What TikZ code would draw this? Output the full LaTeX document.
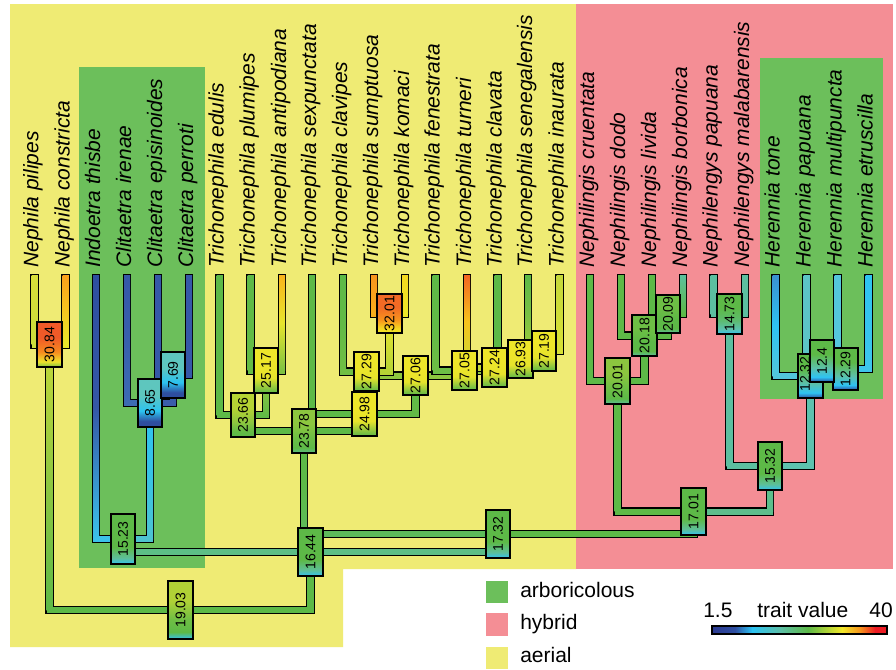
\documentclass[tikz,border=0pt]{standalone}
\usepackage{fontspec}
\setmainfont{Liberation Sans}
\usepackage{graphicx}
\usetikzlibrary{calc}
\pgfdeclarelayer{bg}
\pgfdeclarelayer{brl}
\pgfsetlayers{bg,brl,main}

\definecolor{bgY}{HTML}{EFEB74}
\definecolor{bgP}{HTML}{F48E95}
\definecolor{bgG}{HTML}{6CBF5B}

\newcommand\bxshade[5]{%
 \definecolor{#1a}{HTML}{#2}%
 \definecolor{#1b}{HTML}{#3}%
 \definecolor{#1c}{HTML}{#4}%
 \definecolor{#1d}{HTML}{#5}%
 \pgfdeclareverticalshading{#1}{100bp}{color(0bp)=(#1d); color(25bp)=(#1d); color(31bp)=(#1c); color(42bp)=(#1b); color(58bp)=(#1a); color(100bp)=(#1a)}}

\bxshade{sRoot}{B0D136}{6FBE44}{5DB947}{35C2F0}
\bxshade{sNeph}{F05A28}{F68A1F}{EEE22C}{7DC242}
\bxshade{sGC}{5DB947}{5DB947}{5DBF9A}{30C3F2}
\bxshade{sTeal}{5EC6BE}{2CC3F0}{2E4FA0}{2D4C9E}
\bxshade{sGtf}{8CC63F}{6BBD45}{5DB947}{5DBD8A}
\bxshade{sYG}{B5D334}{8DC63F}{62BA46}{5DB947}
\bxshade{sY}{EEE62A}{E6E32C}{8DC63F}{5DB947}
\bxshade{sOr}{F26A25}{F7941D}{F4D821}{EEE62A}
\bxshade{sGa}{8CC63F}{6DBE45}{5DB947}{5DBE9A}
\bxshade{sGb}{6DBF45}{5DB947}{5DB947}{5CBFA0}
\bxshade{sGd}{5DB947}{5DBB70}{5CC2B0}{30C3F0}
\bxshade{sHer}{5DB947}{5CC0A8}{2EC3F2}{2E4FA0}

% branch: child, parent, top colour, middle colour, bottom colour
\newcommand\brch[5]{%
 \definecolor{tmpA}{HTML}{#3}\definecolor{tmpB}{HTML}{#4}\definecolor{tmpC}{HTML}{#5}%
 \draw[brout] (#1.center) |- (#2.center);
 \draw[brin, draw=tmpC] ($(#1.center)+(0,1.3)$) |- (#2.center);
 \shade[top color=tmpA, bottom color=tmpC, middle color=tmpB] ($(#1.center)+(-3,1.3)$) rectangle ($(#1.center |- #2.center)+(3,0)$);}

% node box: name, cx, cy, w, h, label, shading
\newcommand\nbx[7]{\node[nbox, shading=#7, minimum width=#4*0.75pt, minimum height=#5*0.75pt] (#1) at (#2,#3) {\rotatebox{90}{#6}};}

\begin{document}
\begin{tikzpicture}[x=0.75pt,y=-0.75pt,
  brout/.style={draw=black, line width=6.45pt, line join=miter, line cap=butt},
  brin/.style={line width=4.5pt, line join=miter, line cap=butt},
  nbox/.style={draw=black, line width=1pt, shade, inner sep=0pt, font=\fontsize{10.5}{11}\selectfont},
  blbl/.style={inner sep=0pt, font=\fontsize{10.5}{11}\selectfont},
  sp/.style={rotate=90, anchor=base west, inner sep=0pt, font=\fontsize{15.75}{18}\selectfont\itshape},
  leg/.style={anchor=base west, inner sep=0pt, font=\fontsize{15.75}{18}\selectfont}]

\useasboundingbox (0,0) rectangle (896,669);

\begin{pgfonlayer}{bg}
\fill[white] (0,0) rectangle (896,669);
\fill[bgY] (10,4) -- (576,4) -- (576,569) -- (343,569) -- (343,647) -- (10,647) -- cycle;
\fill[bgP] (576,4) rectangle (893,569);
\fill[bgG] (79,67) rectangle (205,568);
\fill[bgG] (760,58) rectangle (883,399);
\end{pgfonlayer}

% leaf tips
\foreach \i/\x in {0/34.5,1/65.5,2/96,3/127,4/158,5/189,6/219.5,7/250.5,8/282,9/312,10/343,11/374,12/405,13/435.7,14/467,15/497.5,16/528,17/559.5,18/590,19/621,20/652,21/683,22/713.5,23/745,24/775.5,25/806.5,26/837.5,27/868.5}
  \coordinate (l\i) at (\x,274);

% node boxes (parents first)
\nbx{n1903}{180.5}{610}{25}{58}{19.03}{sRoot}
\nbx{n3084}{49.5}{344.5}{25}{45}{30.84}{sNeph}
\nbx{n1644}{310.5}{552}{25}{48}{16.44}{sGC}
\nbx{n1523}{123}{539}{24}{50}{15.23}{sGC}
\nbx{n865}{150}{403}{24}{48}{8.65}{sTeal}
\nbx{n769}{173}{375}{24}{46}{7.69}{sTeal}
\nbx{n1732}{498}{534}{24}{48}{17.32}{sGC}
\nbx{n2378}{304}{431}{24}{44}{23.78}{sGtf}
\nbx{n2366}{243}{415}{24}{44}{23.66}{sYG}
\nbx{n2517}{266}{370.5}{24}{45}{25.17}{sY}
\nbx{n2498}{364.5}{414}{25}{44}{24.98}{sY}
\nbx{n2706}{415.5}{375.5}{25}{39}{27.06}{sY}
\nbx{n2729}{366.5}{371.5}{25}{39}{27.29}{sY}
\nbx{n3201}{389.5}{313.5}{25}{39}{32.01}{sOr}
\nbx{n2705}{464.5}{370.5}{25}{39}{27.05}{sY}
\nbx{n2724}{494.5}{367.5}{25}{39}{27.24}{sY}
\nbx{n2693}{520.5}{359}{25}{38}{26.93}{sY}
\nbx{n2719}{544}{351}{24}{40}{27.19}{sY}
\nbx{n1701}{693.5}{511.5}{25}{47}{17.01}{sGC}
\nbx{n2001}{617.5}{381}{25}{46}{20.01}{sGa}
\nbx{n2018}{644.5}{335.5}{25}{41}{20.18}{sGb}
\nbx{n2009}{668}{314}{24}{38}{20.09}{sGb}
\nbx{n1532}{770}{466}{24}{48}{15.32}{sGC}
\nbx{n1473}{729.5}{314}{25}{40}{14.73}{sGd}
\nbx{n1232}{810.5}{376}{25}{44}{}{sHer}
\node[blbl] (n1232t) at (805,374) {\rotatebox{90}{12.32}};
\nbx{n1229}{845.5}{369}{25}{42}{12.29}{sHer}
\nbx{n1240}{822}{361}{24}{42}{12.4}{sHer}

\begin{pgfonlayer}{brl}
\brch{n3084}{n1903}{C3D838}{90C840}{5DB947}
\brch{n1644}{n1903}{5DB947}{5DB947}{5DB947}
\brch{n1523}{n1644}{5DBE86}{5DBE86}{5DBE86}
\brch{n1732}{n1644}{5DBE86}{5DBE86}{5DBE86}
\brch{l0}{n3084}{D9E03A}{D3DE3A}{CCDC3B}
\brch{l1}{n3084}{F9A01B}{F6C420}{E9E52D}
\brch{l2}{n1523}{2E4FA0}{3557A6}{3CC2EA}
\brch{n865}{n1523}{2EC3F2}{38C3E6}{4EC3D0}
\brch{l3}{n865}{3558A8}{3860AC}{3C6CB3}
\brch{n769}{n865}{3A5DAB}{3A5DAB}{3A5DAB}
\brch{l4}{n769}{3558A8}{3558A8}{3558A8}
\brch{l5}{n769}{3558A8}{3558A8}{3558A8}
\brch{n2378}{n1732}{5DB947}{5DB947}{5DBB5A}
\brch{n1701}{n1732}{5DB947}{5DB947}{5DB947}
\brch{n2366}{n2378}{5DB947}{5DB947}{5DB947}
\brch{n2498}{n2378}{5DB947}{5DB947}{5DB947}
\brch{l6}{n2366}{5DB947}{5DB947}{5DB947}
\brch{n2517}{n2366}{A5CF3A}{80C242}{62BA46}
\brch{l7}{n2517}{5DB947}{60BA46}{66BC45}
\brch{l8}{n2517}{F9B41B}{E8E52C}{7FC242}
\brch{l9}{n2498}{5DB947}{5DB947}{5DB947}
\brch{n2706}{n2498}{62BA46}{62BA46}{62BA46}
\brch{n2729}{n2706}{8DC63F}{8DC63F}{8DC63F}
\brch{l10}{n2729}{5DB947}{62BA46}{70BF44}
\brch{n3201}{n2729}{EEE62A}{D2DD32}{B5D334}
\brch{l11}{n3201}{F7941D}{F8A11C}{F9AE1A}
\brch{l12}{n3201}{F4D81F}{F1DF24}{EEE62A}
\brch{n2705}{n2706}{8DC63F}{8DC63F}{8DC63F}
\brch{l13}{n2705}{5DB947}{62BA46}{6DBE45}
\brch{n2724}{n2705}{8DC63F}{8DC63F}{8DC63F}
\brch{l14}{n2724}{F26522}{F7C31C}{C6DA36}
\brch{n2693}{n2724}{8DC63F}{8DC63F}{8DC63F}
\brch{l15}{n2693}{5DB947}{5DB947}{5DB947}
\brch{n2719}{n2693}{A0CC3A}{A0CC3A}{A0CC3A}
\brch{l16}{n2719}{5DB947}{78C043}{A0CC3A}
\brch{l17}{n2719}{C4D839}{CEDC37}{D8E035}
\brch{n2001}{n1701}{5DB947}{5DB947}{5DB947}
\brch{n1532}{n1701}{5DBE8C}{5DBE8C}{5DBE8C}
\brch{l18}{n2001}{5DB947}{5DB947}{5DB947}
\brch{n2018}{n2001}{5DB947}{5DB947}{5DB947}
\brch{l19}{n2018}{5DB947}{5DB947}{5DB947}
\brch{n2009}{n2018}{5DB947}{5DB947}{5DB947}
\brch{l20}{n2009}{5DB947}{5DB947}{5DB947}
\brch{l21}{n2009}{5CC09C}{5DBC72}{5DB947}
\brch{n1473}{n1532}{5CBFA0}{5CBFA0}{5CBFA0}
\brch{l22}{n1473}{5CBFA0}{5CBFA0}{5CBFA0}
\brch{l23}{n1473}{5CBFA0}{5CBFA0}{5CBFA0}
\brch{n1232}{n1532}{5DC2AE}{5DC2AE}{5DC2AE}
\brch{l24}{n1232}{3A90D0}{2EC3F2}{52C6DC}
\brch{n1229}{n1232}{55C6DA}{55C6DA}{55C6DA}
\brch{n1240}{n1229}{55C6DA}{55C6DA}{55C6DA}
\brch{l25}{n1240}{5CC4C6}{5CC4C6}{5CC4C6}
\brch{l26}{n1240}{55C6DC}{55C6DC}{55C6DC}
\brch{l27}{n1229}{2EC4F2}{36C4EE}{3EC5EC}
\end{pgfonlayer}

% species names
\foreach \i/\nm in {0/Nephila pilipes,1/Nephila constricta,2/Indoetra thisbe,3/Clitaetra irenae,4/Clitaetra episinoides,5/Clitaetra perroti,6/Trichonephila edulis,7/Trichonephila plumipes,8/Trichonephila antipodiana,9/Trichonephila sexpunctata,10/Trichonephila clavipes,11/Trichonephila sumptuosa,12/Trichonephila komaci,13/Trichonephila fenestrata,14/Trichonephila turneri,15/Trichonephila clavata,16/Trichonephila senegalensis,17/Trichonephila inaurata,18/Nephilingis cruentata,19/Nephilingis dodo,20/Nephilingis livida,21/Nephilingis borbonica,22/Nephilengys papuana,23/Nephilengys malabarensis,24/Herennia tone,25/Herennia papuana,26/Herennia multipuncta,27/Herennia etruscilla}
  \node[sp] (t\i) at ($(l\i)+(4,-6)$) {\nm};

% legend
\fill[bgG] (486,581) rectangle (508,603);
\fill[bgP] (486,613) rectangle (508,636);
\fill[bgY] (486,647) rectangle (508,669);
\node[leg] (legA) at (520,597) {arboricolous};
\node[leg] (legH) at (520,629) {hybrid};
\node[leg] (legE) at (520,662) {aerial};

% colour bar
\definecolor{cb0}{HTML}{2B3990}
\definecolor{cb1}{HTML}{2F4FA2}
\definecolor{cb2}{HTML}{2CC3F3}
\definecolor{cb3}{HTML}{5CBFA8}
\definecolor{cb4}{HTML}{5DB947}
\definecolor{cb5}{HTML}{F2E82A}
\definecolor{cb6}{HTML}{F7941D}
\definecolor{cb7}{HTML}{ED1C24}
\shade[left color=cb0, right color=cb1] (712,626) rectangle (735.3,634);
\shade[left color=cb1, right color=cb2] (735,626) rectangle (752.3,634);
\shade[left color=cb2, right color=cb3] (752,626) rectangle (780.3,634);
\shade[left color=cb3, right color=cb4] (780,626) rectangle (808.3,634);
\shade[left color=cb4, right color=cb5] (808,626) rectangle (842.3,634);
\shade[left color=cb5, right color=cb6] (842,626) rectangle (860.3,634);
\shade[left color=cb6, right color=cb7] (860,626) rectangle (875.3,634);
\fill[cb7] (875,626) rectangle (887,634);
\draw[black, line width=1pt] (712,626) rectangle (887,634);
\node[leg] (cbLo) at (703,617) {1.5};
\node[leg] (cbT) at (757,617) {trait value};
\node[leg, anchor=base east] (cbHi) at (893,617) {40};
\end{tikzpicture}
\end{document}
